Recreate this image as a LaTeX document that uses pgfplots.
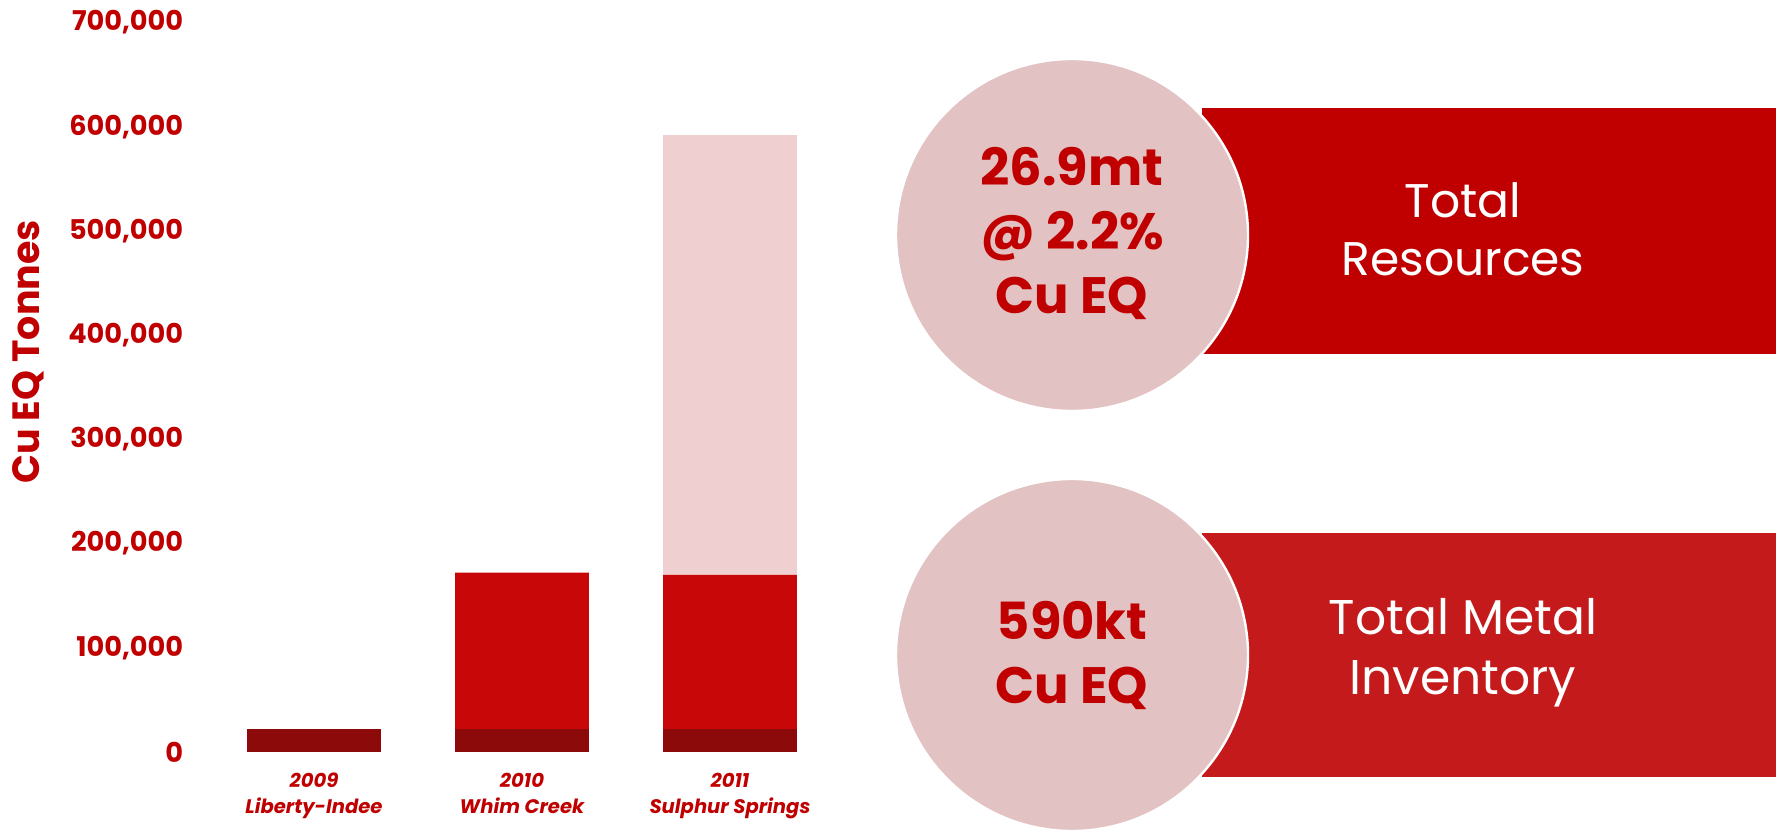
\documentclass[border=0pt]{standalone}
\usepackage{fontspec}
\setmainfont{Poppins}
\usepackage{pgfplots}
\pgfplotsset{compat=1.18}
\definecolor{rdark}{HTML}{8C0A0A}
\definecolor{rmid}{HTML}{C80808}
\definecolor{rpink}{HTML}{EFCFCF}
\definecolor{ttxt}{HTML}{C00000}
\definecolor{recttop}{HTML}{C00000}
\definecolor{rectbot}{HTML}{C41A1B}
\definecolor{circ}{HTML}{E2C2C3}
\begin{document}
\begin{tikzpicture}[x=0.25pt,y=0.25pt]
\path[use as bounding box] (0,0) rectangle (1779,834);
% decorative panels
\fill[recttop] (1202,726) rectangle (1776,480);
\fill[rectbot] (1202,301) rectangle (1776,57);
\filldraw[fill=circ,draw=white,line width=0.6pt] (1072,599) circle (176);
\filldraw[fill=circ,draw=white,line width=0.6pt] (1072,179) circle (176);
\node[align=center,text=ttxt,font=\bfseries\fontsize{12.8}{16}\selectfont] at (1072,601) {26.9mt\\@ 2.2\%\\Cu EQ};
\node[align=center,text=ttxt,font=\bfseries\fontsize{12.8}{16}\selectfont] at (1072,179) {590kt\\Cu EQ};
\node[align=center,text=white,font=\fontsize{11.8}{14.5}\selectfont] at (1463,605) {Total\\Resources};
\node[align=center,text=white,font=\fontsize{12.2}{15}\selectfont] at (1463,181) {Total Metal\\Inventory};
\node[rotate=90,text=ttxt,font=\bfseries\fontsize{9.5}{11}\selectfont] at (28,482) {Cu EQ Tonnes};
\begin{axis}[
  at={(48.75pt,20.5pt)}, anchor=south west,
  scale only axis, width=163.75pt, height=182.4pt,
  ybar stacked, bar width=0.644,
  xmin=-0.572, xmax=2.577, ymin=0, ymax=700000,
  axis line style={draw=none}, major tick length=0pt,
  xtick={0,1,2},
  xticklabels={2009\\Liberty-Indee,2010\\Whim Creek,2011\\Sulphur Springs},
  xticklabel style={align=center,anchor=north,inner sep=0pt,yshift=-5pt,text=ttxt,
     font=\bfseries\itshape\fontsize{4.9}{6.5}\selectfont},
  ytick={0,100000,...,700000},
  scaled y ticks=false,
  yticklabel style={/pgf/number format/fixed,/pgf/number format/1000 sep={,},
     /pgf/number format/assume math mode=true,
     anchor=east,inner sep=0pt,xshift=-2.75pt,text=ttxt,
     font=\bfseries\fontsize{6.8}{8}\selectfont},
  clip=false,
]
\addplot[fill=rdark,draw=none] coordinates {(0,22000) (1,22000) (2,22000)};
\addplot[fill=rmid,draw=none] coordinates {(0,0) (1,150000) (2,148000)};
\addplot[fill=rpink,draw=none] coordinates {(0,0) (1,0) (2,422000)};
\end{axis}
\end{tikzpicture}
\end{document}
